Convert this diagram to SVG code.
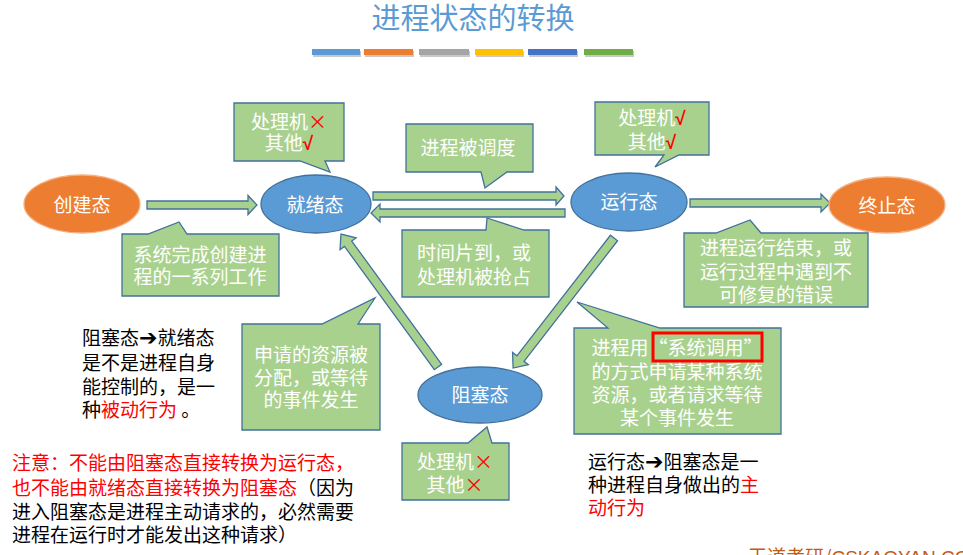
<svg xmlns="http://www.w3.org/2000/svg" width="963" height="555" viewBox="0 0 963 555">
<defs>
<style>
text{font-family:"Noto Sans CJK SC","Liberation Sans",sans-serif;font-size:19px}
.title{font-size:29px;fill:#5B9BD5;text-anchor:middle}
.lbl{fill:#FFFFFF;text-anchor:middle}
.co{fill:#A9D18E;stroke:#41719C;stroke-width:1.3}
.arr{fill:#A9D18E;stroke:#41719C;stroke-width:1.3;stroke-linejoin:miter}
.blue{fill:#5B9BD5;stroke:#41719C;stroke-width:1.3}
.orange{fill:#ED7D31;stroke:#F4B183;stroke-width:1.3}
.ct{fill:#FFFFFF;text-anchor:middle}
.red{fill:#FF0000}
.blk{fill:#000000}
.chk{fill:#FF0000;font-family:"Liberation Sans",sans-serif;font-weight:bold}
.harr{font-family:"DejaVu Sans",sans-serif;font-size:22px;font-weight:bold}
</style>
<polygon id="ah" points="0,-4.5 152.6,-4.5 152.6,-10 164.6,0 152.6,10 152.6,4.5 0,4.5"/>
</defs>
<rect width="963" height="555" fill="#FFFFFF"/>

<g id="title">
<text class="title" x="473" y="29">进程状态的转换</text>
<g fill="#C8C8C8">
<rect x="313" y="51" width="48" height="6"/><rect x="365" y="51" width="49" height="6"/><rect x="420" y="51" width="50" height="6"/><rect x="476" y="51" width="48" height="6"/><rect x="529" y="51" width="49" height="6"/><rect x="585" y="51" width="49" height="6"/>
</g>
<rect x="312" y="49" width="48" height="6" fill="#5B9BD5"/>
<rect x="364" y="49" width="49" height="6" fill="#ED7D31"/>
<rect x="419" y="49" width="50" height="6" fill="#A5A5A5"/>
<rect x="475" y="49" width="48" height="6" fill="#FFC000"/>
<rect x="528" y="49" width="49" height="6" fill="#4472C4"/>
<rect x="584" y="49" width="49" height="6" fill="#70AD47"/>
</g>

<g id="connectors">
<polygon class="arr" points="147,201 248,201 248,195.5 257,205 248,214.5 248,209 147,209"/>
<polygon class="arr" points="373,192 556,192 556,187 564,196 556,205 556,200 373,200"/>
<polygon class="arr" points="565,209 380,209 380,204 371,213 380,222 380,217 565,217"/>
<polygon class="arr" points="690,199 821,199 821,194 830,203 821,212 821,207 690,207"/>
<use href="#ah" class="arr" transform="translate(438,367) rotate(-126.1)"/>
<use href="#ah" class="arr" transform="translate(614,238) rotate(127.8)"/>
</g>

<g id="node-create">
<ellipse class="orange" cx="82" cy="204" rx="58" ry="29"/>
<text class="lbl" x="82" y="212">创建态</text>
</g>
<g id="node-ready">
<ellipse class="blue" cx="316" cy="204" rx="55" ry="29"/>
<text class="lbl" x="315" y="212">就绪态</text>
</g>
<g id="node-running">
<ellipse class="blue" cx="629" cy="202" rx="58" ry="29"/>
<text class="lbl" x="629" y="209">运行态</text>
</g>
<g id="node-terminated">
<ellipse class="orange" cx="887" cy="205" rx="58" ry="28"/>
<text class="lbl" x="887" y="213">终止态</text>
</g>
<g id="node-blocked">
<ellipse class="blue" cx="480" cy="395" rx="62" ry="28"/>
<text class="lbl" x="480" y="402">阻塞态</text>
</g>

<g id="callout-ready">
<path class="co" d="M234,103 H344 V161 H325 L330,172 L300,161 H234 Z"/>
<text class="ct" x="289" y="129">处理机<tspan class="red">×</tspan></text>
<text class="ct" x="289" y="150">其他<tspan class="chk">√</tspan></text>
</g>
<g id="callout-create">
<path class="co" d="M122,234 H148 L179,222 L187,234 H279 V296 H122 Z"/>
<text class="ct" x="200" y="262">系统完成创建进</text>
<text class="ct" x="200" y="284">程的一系列工作</text>
</g>
<g id="callout-dispatch">
<path class="co" d="M406,124 H533 V172 H507 L485,188 L481,172 H406 Z"/>
<text class="ct" x="468" y="155">进程被调度</text>
</g>
<g id="callout-timeout">
<path class="co" d="M402,230 H486 L487,218 L524,230 H549 V297 H402 Z"/>
<text class="ct" x="474" y="260">时间片到，或</text>
<text class="ct" x="474" y="284">处理机被抢占</text>
</g>
<g id="callout-running">
<path class="co" d="M595,102 H709 V155 H679 L655,167 L664,155 H595 Z"/>
<text class="ct" x="652" y="125">处理机<tspan class="chk">√</tspan></text>
<text class="ct" x="652" y="149">其他<tspan class="chk">√</tspan></text>
</g>
<g id="callout-exit">
<path class="co" d="M684,233 H716 L750,220 L761,233 H868 V307 H684 Z"/>
<text class="ct" x="776" y="255">进程运行结束，或</text>
<text class="ct" x="776" y="279">运行过程中遇到不</text>
<text class="ct" x="776" y="302">可修复的错误</text>
</g>
<g id="callout-wakeup">
<path class="co" d="M242,324 H322 L375,298 L358,324 H380 V430 H242 Z"/>
<text class="ct" x="311" y="362">申请的资源被</text>
<text class="ct" x="311" y="385">分配，或等待</text>
<text class="ct" x="311" y="407">的事件发生</text>
</g>
<g id="callout-block">
<path class="co" d="M574,328 H608 L577,302 L660,328 H781 V434 H574 Z"/>
<text class="ct" x="677" y="355">进程用“系统调用”</text>
<text class="ct" x="677" y="379">的方式申请某种系统</text>
<text class="ct" x="677" y="402">资源，或者请求等待</text>
<text class="ct" x="677" y="425">某个事件发生</text>
<rect x="653" y="333" width="109" height="28" fill="none" stroke="#FF0000" stroke-width="3"/>
</g>
<g id="callout-blocked">
<path class="co" d="M402,443 H468 L487,427 L492,443 H509 V500 H402 Z"/>
<text class="ct" x="455" y="469">处理机<tspan class="red">×</tspan></text>
<text class="ct" x="455" y="492">其他<tspan class="red">×</tspan></text>
</g>

<g id="note-left">
<text class="blk" x="82" y="345">阻塞态<tspan class="harr">➔</tspan>就绪态</text>
<text class="blk" x="82" y="370">是不是进程自身</text>
<text class="blk" x="82" y="394">能控制的，是一</text>
<text class="blk" x="82" y="417">种<tspan class="red">被动行为</tspan> 。</text>
</g>
<g id="note-bottom">
<text class="red" x="12" y="470">注意：不能由阻塞态直接转换为运行态，</text>
<text class="red" x="12" y="495">也不能由就绪态直接转换为阻塞态<tspan class="blk">（因为</tspan></text>
<text class="blk" x="12" y="519">进入阻塞态是进程主动请求的，必然需要</text>
<text class="blk" x="12" y="542">进程在运行时才能发出这种请求）</text>
</g>
<g id="note-right">
<text class="blk" x="588" y="469">运行态<tspan class="harr">➔</tspan>阻塞态是一</text>
<text class="blk" x="588" y="492">种进程自身做出的<tspan class="red">主</tspan></text>
<text class="red" x="588" y="515">动行为</text>
</g>
<text x="748" y="564" fill="#C55A11" style="font-size:19px">王道考研/<tspan style="font-family:'Liberation Sans',sans-serif">CSKAOYAN.COM</tspan></text>
</svg>
